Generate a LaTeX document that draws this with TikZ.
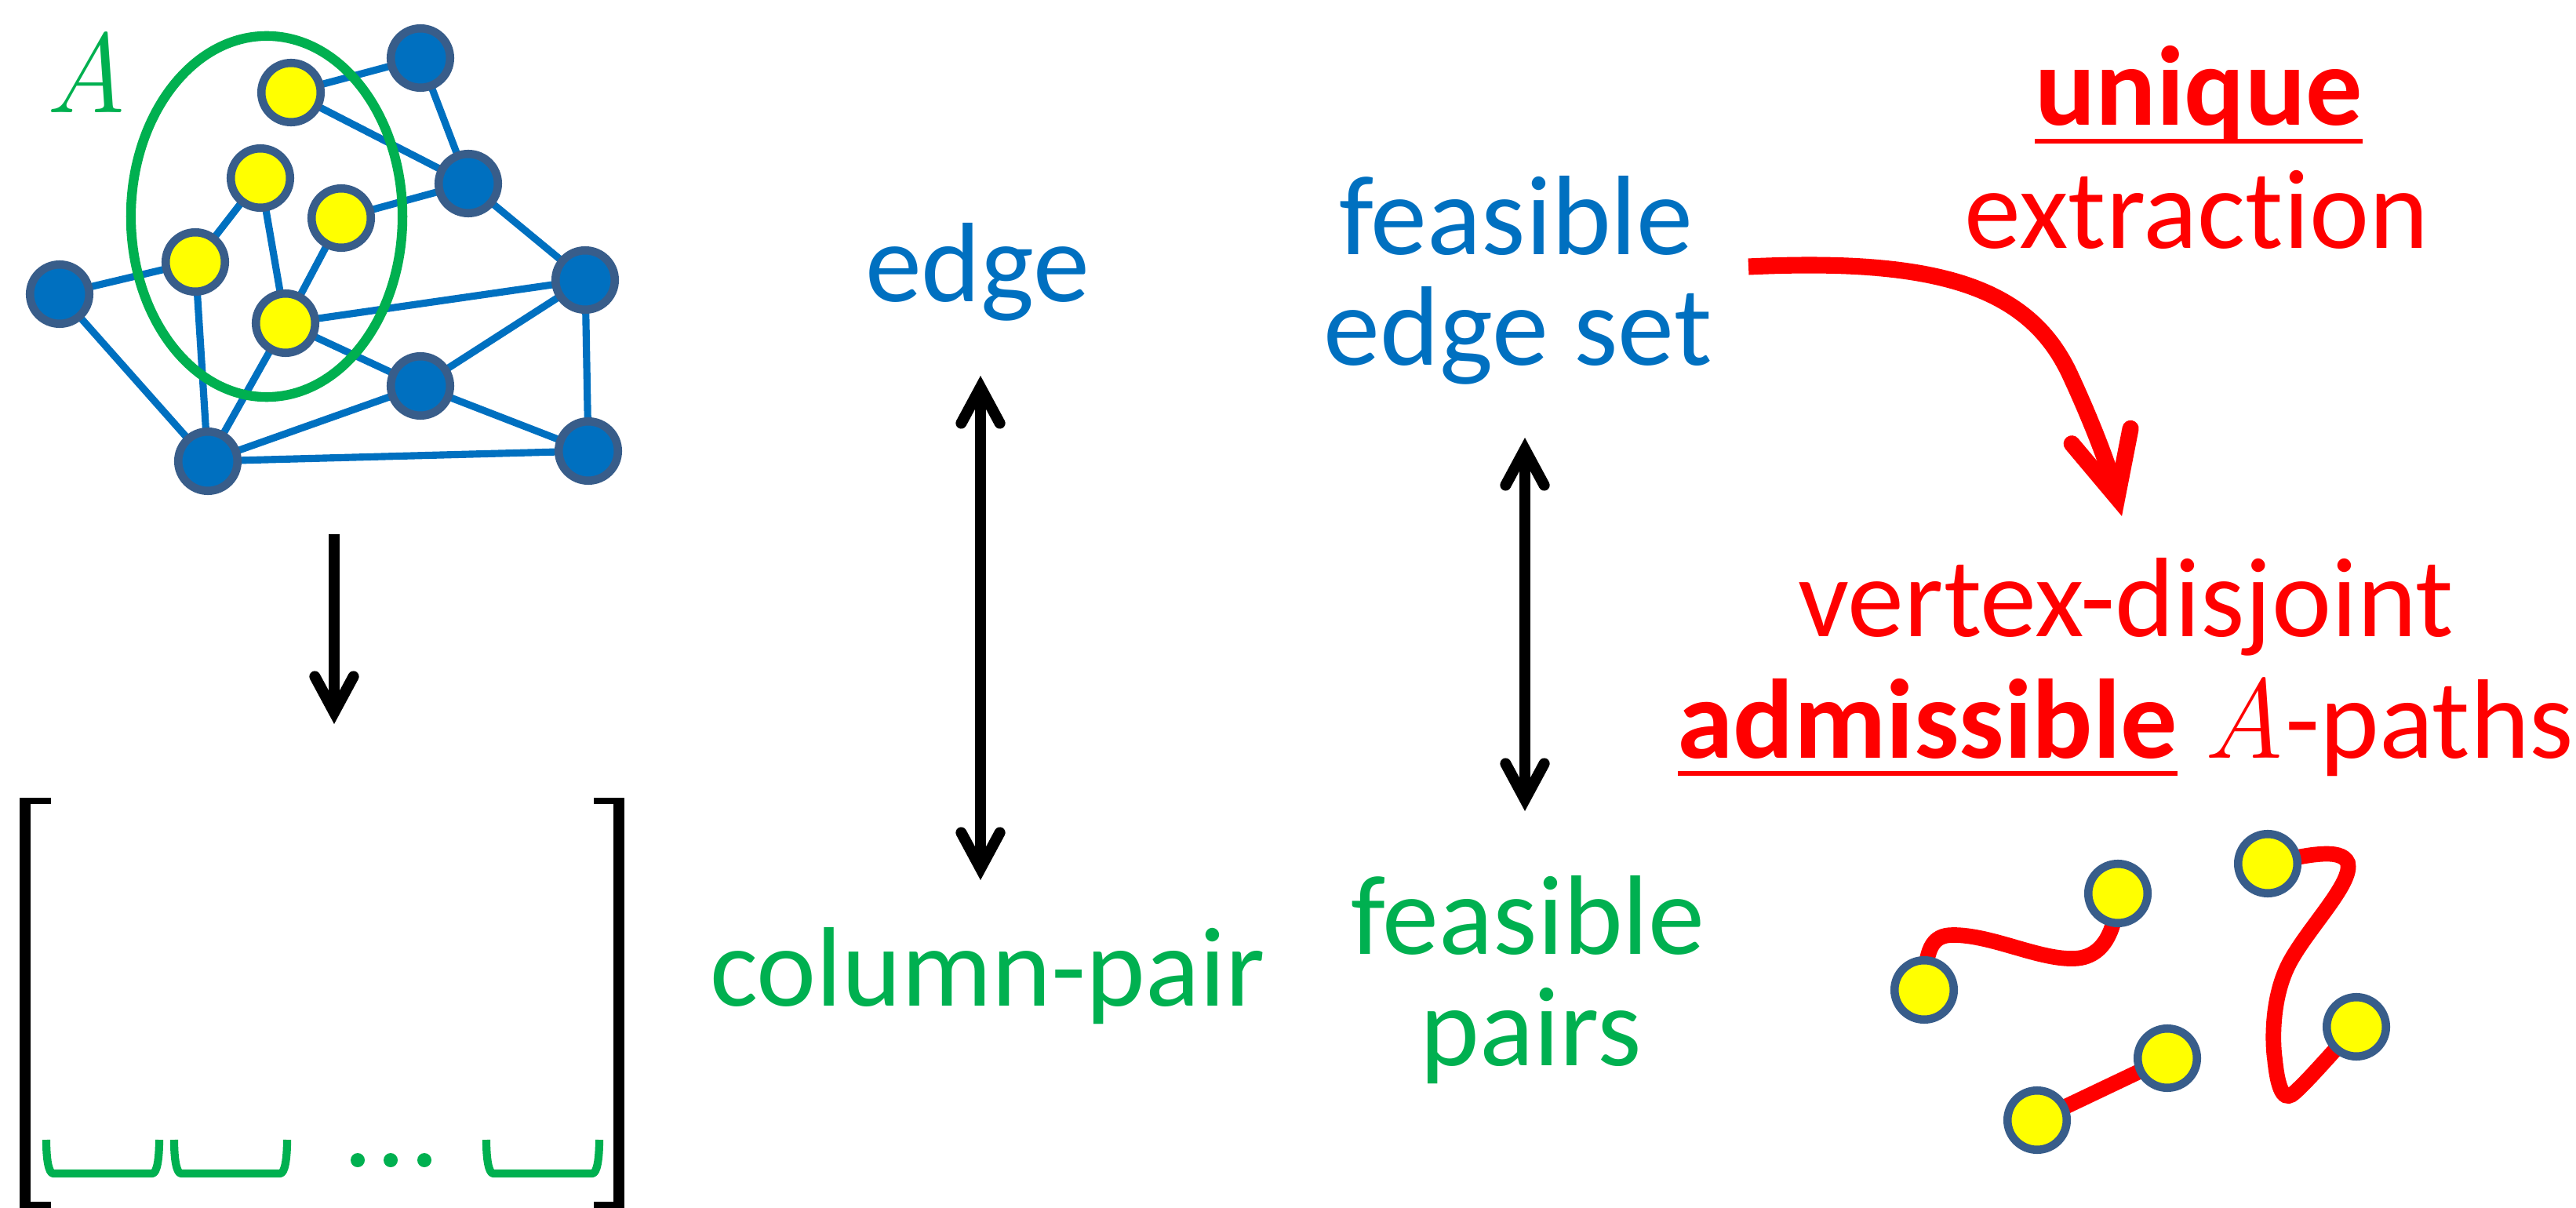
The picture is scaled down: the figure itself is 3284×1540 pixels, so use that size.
\documentclass[tikz,border=0pt]{standalone}
\usepackage{fontspec}
\setsansfont{Carlito}[Ligatures={NoCommon}]
\usetikzlibrary{arrows.meta,backgrounds}

\definecolor{nodeblue}{HTML}{0070C0}
\definecolor{rim}{HTML}{385D8A}
\definecolor{accgreen}{HTML}{00B050}
\definecolor{accred}{HTML}{FF0000}
\definecolor{dotyellow}{HTML}{FFFF00}

% word with a bar drawn through its lower part, as in the headings
\newcommand{\ulword}[1]{\setbox0=\hbox{#1}\rlap{\rule[-0.16em]{\wd0}{0.042em}}\box0\relax}
% italic set symbol A
\newcommand{\setsym}{{\rmfamily\itshape A}}

\tikzset{
  vtx/.style={circle, draw=rim, line width=3.0pt, minimum size=0.755cm, inner sep=0pt},
  bvtx/.style={vtx, fill=nodeblue},
  yvtx/.style={vtx, fill=dotyellow},
  gedge/.style={draw=nodeblue, line width=2.6pt},
  lbl/.style={inner sep=0pt, anchor=base, font=\sffamily\fontsize{41}{41}\selectfont},
  blacktip/.tip={Straight Barb[length=13pt, width=14pt, line cap=round, line join=miter]},
  redtip/.tip={Straight Barb[length=23pt, width=22pt, line cap=round, line join=miter]},
  blackarrow/.style={draw=black, line width=4.0pt, -blacktip},
  dblarrow/.style={draw=black, line width=4.0pt, blacktip-blacktip},
  redarrow/.style={draw=accred, line width=6.0pt, -redtip},
  redpath/.style={draw=accred, line width=5.6pt, line cap=round},
  gbrace/.style={draw=accgreen, line width=2.9pt, line join=round},
}

\begin{document}
\begin{tikzpicture}[x=0.01cm, y=-0.01cm]
\useasboundingbox (0,0) rectangle (3284,1540);

% ---------- graph with terminal set A ----------
\node[yvtx] (Y1) at (371,118) {};
\node[yvtx] (Y2) at (332,227) {};
\node[yvtx] (Y3) at (435,278) {};
\node[yvtx] (Y4) at (249,334) {};
\node[yvtx] (Y5) at (364,412) {};
\node[bvtx] (B1) at (536,74) {};
\node[bvtx] (B2) at (597,234) {};
\node[bvtx] (B3) at (76,375) {};
\node[bvtx] (B4) at (746,357) {};
\node[bvtx] (B5) at (536,492) {};
\node[bvtx] (B6) at (750,575) {};
\node[bvtx] (B7) at (265,588) {};

\begin{scope}[on background layer]
  \foreach \u/\v in {Y1/B1, Y1/B2, B1/B2, Y3/B2, B2/B4, Y2/Y4, Y2/Y5, Y3/Y5,
                     B3/Y4, Y4/B7, B3/B7, Y5/B4, Y5/B5, Y5/B7, B5/B4, B5/B7,
                     B5/B6, B4/B6, B7/B6}
    \draw[gedge] (\u.center) -- (\v.center);
  \draw[accgreen, line width=3.5pt] (340,276) ellipse [x radius=1.73cm, y radius=2.30cm];
\end{scope}

\node[lbl, text=accgreen] (setA) at (110,144) {\setsym};

% ---------- graph to matrix ----------
\coordinate (gdown0) at (426,681);
\coordinate (gdown1) at (426,923);
\draw[blackarrow] (gdown0) -- (gdown1);

% matrix brackets
\fill[black] (25,1017) rectangle (39,1540);
\fill[black] (25,1017) rectangle (65,1025);
\fill[black] (25,1532) rectangle (65,1540);
\fill[black] (782,1017) rectangle (796,1540);
\fill[black] (757,1017) rectangle (796,1025);
\fill[black] (757,1532) rectangle (796,1540);

% column pairs
\foreach \xl in {59,222,620} {
  \draw[gbrace] (\xl,1453) .. controls +(0,25) and +(-6,0) .. (\xl+9,1496)
      -- (\xl+135,1496) .. controls +(6,0) and +(0,25) .. (\xl+144,1453);
}
\foreach \xd in {456,498,541}
  \fill[accgreen] (\xd,1479) circle[radius=0.09cm];

% ---------- edge / column-pair ----------
\node[lbl, text=nodeblue] (edgeT) at (1246,385) {edge};
\node[lbl, text=accgreen] (colpair) at (1259,1282) {column-pair};
\coordinate (ea) at (1250,479);
\coordinate (eb) at (1250,1122);
\draw[dblarrow] (ea) -- (eb);

% ---------- feasible edge set / feasible pairs ----------
\node[lbl, text=nodeblue] (fes1) at (1933,325) {feasible};
\node[lbl, text=nodeblue] (fes2) at (1935,466) {edge set};
\node[lbl, text=accgreen] (fp1) at (1948,1216) {feasible};
\node[lbl, text=accgreen] (fp2) at (1952,1358) {pairs};
\coordinate (fa) at (1944,558);
\coordinate (fb) at (1944,1034);
\draw[dblarrow] (fa) -- (fb);

% ---------- extraction ----------
\node[lbl, text=accred] (uniq) at (2803,160) {\ulword{\textbf{unique}}};
\node[lbl, text=accred] (extr) at (2800,317) {extraction};
\coordinate (ext0) at (2229,340);
\coordinate (ext1) at (2705,658);
\draw[redarrow] (ext0) .. controls (2480,328) and (2590,370) .. (2640,480)
   .. controls (2670,545) and (2690,600) .. (ext1);

\node[lbl, text=accred] (vdis) at (2710,811) {vertex-disjoint};
\node[lbl, text=accred] (admi) at (2710,966) {\ulword{\textbf{admissible}} \setsym-paths};

% ---------- disjoint A-paths ----------
\node[yvtx] (p1) at (2453,1262) {};
\node[yvtx] (p2) at (2700,1139) {};
\node[yvtx] (p3) at (2597,1428) {};
\node[yvtx] (p4) at (2763,1349) {};
\node[yvtx] (p5) at (2891,1101) {};
\node[yvtx] (p6) at (3004,1309) {};

\begin{scope}[on background layer]
  \draw[redpath] (p1.center) .. controls (2455,1210) and (2462,1192) .. (2490,1192)
     .. controls (2540,1192) and (2600,1224) .. (2645,1222)
     .. controls (2690,1220) and (2698,1170) .. (p2.center);
  \draw[redpath] (p3.center) -- (p4.center);
  \draw[redpath] (p5.center) .. controls (2940,1090) and (2985,1080) .. (2993,1100)
     .. controls (3000,1125) and (2945,1180) .. (2920,1225)
     .. controls (2895,1270) and (2897,1330) .. (2900,1350)
     .. controls (2905,1400) and (2915,1402) .. (2925,1393)
     .. controls (2945,1375) and (2970,1345) .. (p6.center);
\end{scope}
\end{tikzpicture}
\end{document}
